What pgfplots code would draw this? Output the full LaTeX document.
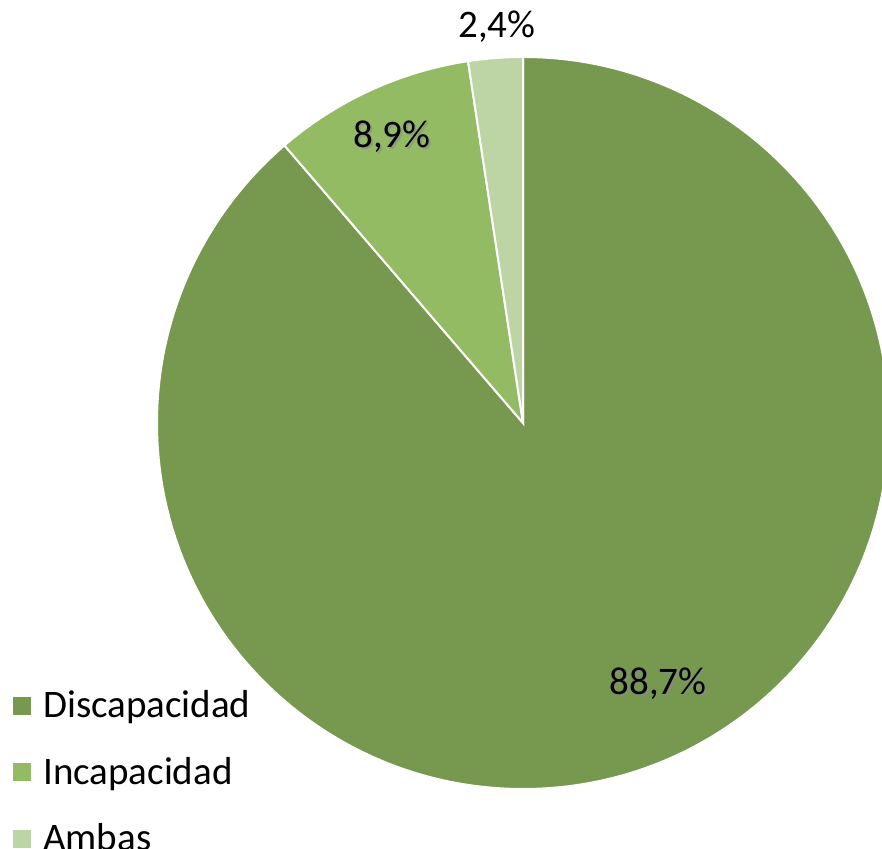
\documentclass[border=0pt]{standalone}
\usepackage{pgfplots}
\pgfplotsset{compat=1.18}
\usepackage{pgfplotstable}
\usepackage{fontspec}
\setmainfont{Carlito}

\definecolor{cDis}{HTML}{77984F}
\definecolor{cInc}{HTML}{93BB63}
\definecolor{cAmb}{HTML}{BDD4A5}

% share of each group, in percent
\pgfplotstableread{
name value
Discapacidad 88.7
Incapacidad 8.9
Ambas 2.4
}\piedata

\begin{document}
\begin{tikzpicture}
    % axis units are pixels of the original picture (1 px = 0.5pt)
    \def\cx{523}\def\cy{426}\def\r{183pt}
    \pgfplotstablegetelem{0}{value}\of\piedata \pgfmathsetmacro\aA{90-3.6*\pgfplotsretval}
    \pgfplotstablegetelem{1}{value}\of\piedata \pgfmathsetmacro\aB{\aA-3.6*\pgfplotsretval}
    \pgfplotstablegetelem{2}{value}\of\piedata \pgfmathsetmacro\aC{\aB-3.6*\pgfplotsretval}
    \begin{axis}
        [
        x=0.5pt, y=0.5pt,
        xmin=0, xmax=882, ymin=0, ymax=849,
        hide axis, clip=false,
        legend style={at={(axis cs:13,163)}, anchor=north west, draw=none, fill=none,
            inner sep=0pt, font=\fontsize{19.5}{23}\selectfont, row sep=14.25pt,
            column sep=4pt, legend cell align=left},
        ]
        \coordinate (SW) at (axis cs:0,0);
        \coordinate (NE) at (axis cs:882,849);

        \fill[cDis, draw=white, line width=1pt] (axis cs:\cx,\cy) -- ++(90:\r)
            arc[start angle=90, end angle=\aA, radius=\r] -- cycle;
        \fill[cInc, draw=white, line width=1pt] (axis cs:\cx,\cy) -- ++(\aA:\r)
            arc[start angle=\aA, end angle=\aB, radius=\r] -- cycle;
        \fill[cAmb, draw=white, line width=1pt] (axis cs:\cx,\cy) -- ++(\aB:\r)
            arc[start angle=\aB, end angle=\aC, radius=\r] -- cycle;

        \tikzset{lbl/.style={font=\fontsize{19.5}{23}\selectfont, inner sep=0pt}}
        \node[lbl] at (axis cs:497,822) {2,4\%};
        \node[lbl, text=black!45, opacity=0.6] at ([xshift=1pt,yshift=-1pt]axis cs:392,712) {8,9\%};
        \node[lbl] at (axis cs:392,712) {8,9\%};
        \node[lbl, text=black!45, opacity=0.6] at ([xshift=1pt,yshift=-1pt]axis cs:658,165) {88,7\%};
        \node[lbl] at (axis cs:658,165) {88,7\%};

        \addlegendimage{legend image code/.code={\fill[cDis] (0pt,-4.25pt) rectangle (8.5pt,4.25pt);}}
        \addlegendentry{Discapacidad}
        \addlegendimage{legend image code/.code={\fill[cInc] (0pt,-4.25pt) rectangle (8.5pt,4.25pt);}}
        \addlegendentry{Incapacidad}
        \addlegendimage{legend image code/.code={\fill[cAmb] (0pt,-4.25pt) rectangle (8.5pt,4.25pt);}}
        \addlegendentry{Ambas}
    \end{axis}
    \pgfresetboundingbox
    \useasboundingbox (SW) rectangle (NE);
\end{tikzpicture}
\end{document}
